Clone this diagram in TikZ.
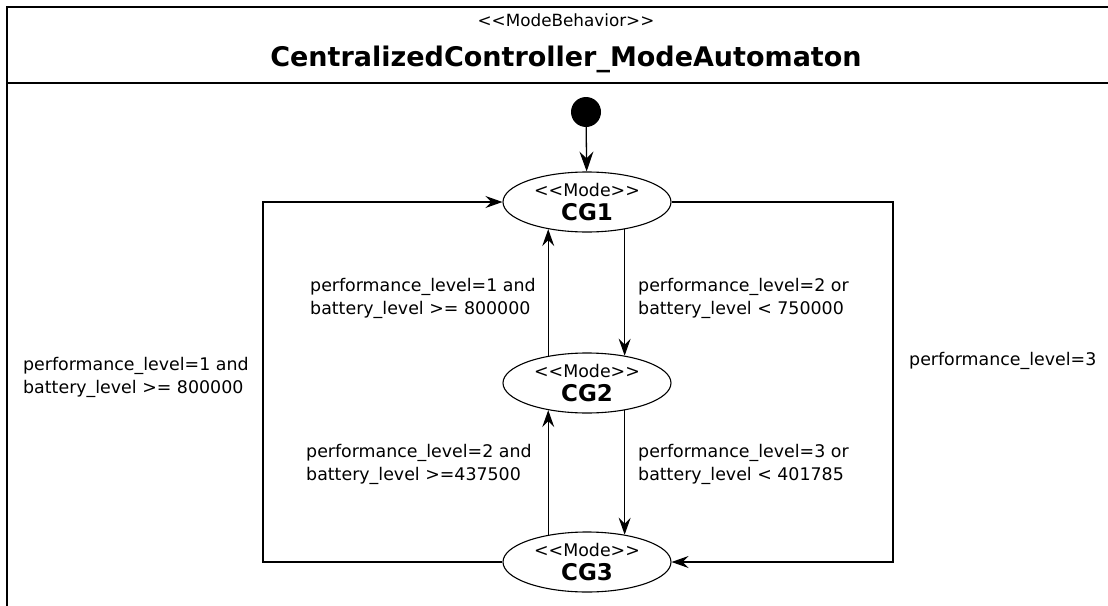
\documentclass[tikz,border=0pt]{standalone}
\usepackage{fontspec}
\setmainfont{DejaVu Sans}
\newfontfamily\dejavu{DejaVu Sans}
\usetikzlibrary{arrows.meta,shapes.geometric}
\begin{document}
\begin{tikzpicture}[x=1pt,y=-1pt,
  lbl/.style={font=\dejavu\fontsize{17.4}{23}\selectfont, align=left, anchor=west, inner sep=0pt},
  state/.style={ellipse, draw, line width=1.1pt, minimum width=168pt, minimum height=60pt, inner sep=0pt, align=center, font=\dejavu\fontsize{17.4}{24}\selectfont},
  tr/.style={line width=1.2pt, -{Stealth[length=17pt,width=12pt,inset=6pt]}},
  frame/.style={line width=1.6pt}]
\useasboundingbox (0,0) rectangle (1108,605);
% frame
\draw[frame] (1110,7) -- (7,7) -- (7,607);
\draw[frame] (7,83) -- (1110,83);
\node[font=\dejavu\fontsize{16.8}{20}\selectfont, inner sep=0pt] (stereo) at (566,20) {<<ModeBehavior>>};
\node[font=\dejavu\bfseries\fontsize{27}{30}\selectfont, inner sep=0pt] (title) at (566,59) {CentralizedController\_ModeAutomaton};
% states
\node[circle, fill, minimum size=30pt, inner sep=0pt] (init) at (586,112) {};
\node[state] (cg1) at (587,202) {<<Mode>>\\{\fontsize{23}{24}\selectfont\bfseries CG1}};
\node[state] (cg2) at (587,383) {<<Mode>>\\{\fontsize{23}{24}\selectfont\bfseries CG2}};
\node[state] (cg3) at (587,562) {<<Mode>>\\{\fontsize{23}{24}\selectfont\bfseries CG3}};
\coordinate (lx) at (263,0);
\coordinate (rx) at (893,0);
% transitions
\draw[line width=1.3pt, -{Stealth[length=20pt,width=14pt,inset=7pt]}] (init) -- (cg1);
\draw[tr] (cg1.-36) -- (cg2.36);
\draw[tr] (cg2.145.7) -- (cg1.-145.7);
\draw[tr] (cg2.-36) -- (cg3.36);
\draw[tr] (cg3.145.7) -- (cg2.-145.7);
\draw[tr] (cg3.west) -- (cg3.west -| lx) |- (cg1.west);
\draw[tr] (cg1.east) -- (cg1.east -| rx) |- (cg3.east);
% labels
\node[lbl] (l1) at (310,298) {performance\_level=1 and\\battery\_level >= 800000};
\node[lbl] (l2) at (638,298) {performance\_level=2 or\\battery\_level < 750000};
\node[lbl] (l3) at (306,464) {performance\_level=2 and\\battery\_level >=437500};
\node[lbl] (l4) at (638,464) {performance\_level=3 or\\battery\_level < 401785};
\node[lbl] (l5) at (23,377) {performance\_level=1 and\\battery\_level >= 800000};
\node[lbl] (l6) at (909,361) {performance\_level=3};
\end{tikzpicture}
\end{document}
